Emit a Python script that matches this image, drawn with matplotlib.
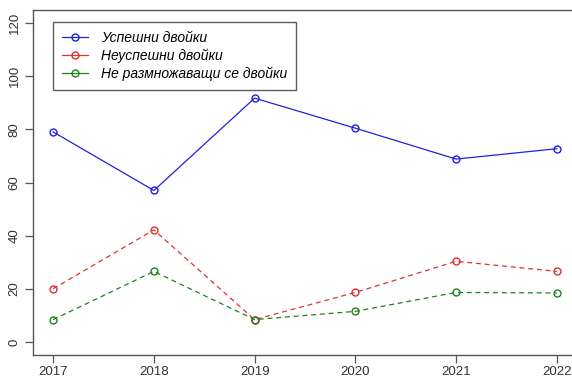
import matplotlib.pyplot as plt
from matplotlib.lines import Line2D

plt.rcParams['font.family'] = ['Liberation Sans', 'DejaVu Sans']

# Данни по години
years = [2017, 2018, 2019, 2020, 2021, 2022]
uspeshni = [79, 57, 91.7, 80.4, 68.8, 72.7]
neuspeshni = [20.1, 42.2, 8.5, 18.7, 30.4, 26.6]
ne_razmnozhavashti = [8.5, 26.6, 8.5, 11.6, 18.7, 18.5]
y_ticks = [0, 20, 40, 60, 80, 100, 120]
labels = ['Успешни двойки', 'Неуспешни двойки', 'Не размножаващи се двойки']
colors = ['#2020e0', '#e03030', '#208020']

W, H = 572, 381
fig = plt.figure(figsize=(W / 100, H / 100), dpi=100)
# оста е малко по-широка от платното, както при изрязан R график
ax = fig.add_axes([33 / W, (H - 355) / H, (577 - 33) / W, (355 - 10) / H])

series = [uspeshni, neuspeshni, ne_razmnozhavashti]
styles = ['-', (0, (4, 3)), (0, (4, 3))]
for vals, c, ls in zip(series, colors, styles):
    ax.plot(years, vals, color=c, lw=0.9, ls=ls, marker='o', ms=5,
            mfc='none', mew=1.0)

ax.set_xlim(2016.8, 2022.2)
ax.set_ylim(-4.8, 124.8)
ax.set_xticks(years)
ax.set_yticks(y_ticks)
ax.set_yticklabels([str(v) for v in y_ticks], rotation=90, va='center')

ax.spines['right'].set_visible(False)
for side in ['left', 'bottom', 'top']:
    ax.spines[side].set_color('#555555')
    ax.spines[side].set_linewidth(1.0)
ax.tick_params(axis='both', direction='out', length=6, width=0.9,
               color='#555555', labelcolor='#333333', labelsize=9.5)
ax.tick_params(axis='x', pad=2)
ax.tick_params(axis='y', pad=3)

# в легендата всички линии са плътни
handles = [Line2D([], [], color=c, lw=0.9, marker='o', ms=5, mfc='none', mew=1.0)
           for c in colors]
leg = ax.legend(handles, labels, loc='upper left',
                bbox_to_anchor=((53 - 33) / 544, 1 - (22 - 10) / 345),
                frameon=True, fancybox=False, edgecolor='#333333',
                prop={'style': 'italic', 'size': 10},
                handlelength=1.9, handletextpad=0.9, labelspacing=0.25,
                borderpad=0.65, borderaxespad=0)
leg.get_frame().set_linewidth(1.0)

fig.savefig('out.png', dpi=100)
